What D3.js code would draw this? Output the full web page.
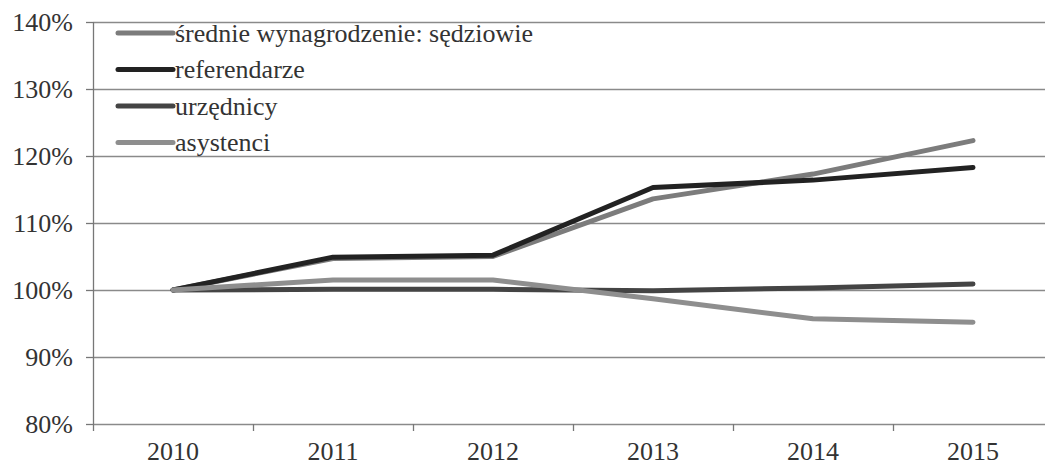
<!DOCTYPE html>
<html><head><meta charset="utf-8">
<script src="https://cdn.jsdelivr.net/npm/d3@7"></script>
</head><body style="margin:0">
<script>
const years = ["2010","2011","2012","2013","2014","2015"];
const seriesNames = ["średnie wynagrodzenie: sędziowie","referendarze","urzędnicy","asystenci"];
const sedziowie = [100, 104.7, 105.0, 113.6, 117.3, 122.3];
const referendarze = [100, 104.9, 105.2, 115.3, 116.4, 118.3];
const urzednicy = [100, 100.1, 100.1, 99.9, 100.3, 100.9];
const asystenci = [100, 101.5, 101.5, 98.7, 95.7, 95.2];
const yTicks = [80, 90, 100, 110, 120, 130, 140];

(function () {
const colors = ["#7c7c7c", "#222222", "#444444", "#8e8e8e"];
const allSeries = [sedziowie, referendarze, urzednicy, asystenci];
const FS = "26px";

const W = 1045, H = 467;
const svg = d3.select("body").append("svg").attr("width", W).attr("height", H);
const pLeft = 93, pRight = 1053, pTop = 22, pBottom = 424;

const x = d3.scaleBand().domain(years).range([pLeft, pRight]);
const y = d3.scaleLinear().domain([80, 140]).range([pBottom, pTop]);

function addText(sel) {
  return sel.style("font-family", '"Times New Roman"').style("font-size", FS).attr("fill", "#333");
}

// gridlines
svg.append("g").selectAll("line").data(yTicks).join("line")
  .attr("x1", pLeft).attr("x2", pRight)
  .attr("y1", d => Math.round(y(d)) + 0.5).attr("y2", d => Math.round(y(d)) + 0.5)
  .attr("stroke", "#8a8a8a").attr("stroke-width", 1.3);

// y axis line and ticks (manual, through scale)
svg.append("line").attr("x1", pLeft + 0.5).attr("x2", pLeft + 0.5)
  .attr("y1", y(80)).attr("y2", y(140)).attr("stroke", "#777").attr("stroke-width", 1.3);
svg.append("g").selectAll("line").data(yTicks).join("line")
  .attr("x1", pLeft - 7).attr("x2", pLeft)
  .attr("y1", d => Math.round(y(d)) + 0.5).attr("y2", d => Math.round(y(d)) + 0.5)
  .attr("stroke", "#777").attr("stroke-width", 1.3);
svg.selectAll("text.ylab").data(yTicks).join("text").attr("class", "ylab")
  .attr("x", pLeft - 20).attr("y", d => y(d)).attr("dy", "0.33em")
  .attr("text-anchor", "end")
  .call(addText)
  .text(d => d + "%");

// x labels
svg.selectAll("text.xlab").data(years).join("text").attr("class", "xlab")
  .attr("x", d => x(d) + x.bandwidth() / 2).attr("y", pBottom + 36)
  .attr("text-anchor", "middle")
  .call(addText)
  .text(d => d);
// boundary ticks
svg.append("g").selectAll("line").data(years).join("line")
  .attr("x1", d => Math.round(x(d)) + 0.5).attr("x2", d => Math.round(x(d)) + 0.5)
  .attr("y1", pBottom).attr("y2", pBottom + 7)
  .attr("stroke", "#777").attr("stroke-width", 1.3);

// lines
const line = d3.line().x((d, i) => x(years[i]) + x.bandwidth() / 2).y(d => y(d));
svg.append("g").selectAll("path").data(allSeries).join("path")
  .attr("d", d => line(d))
  .attr("fill", "none")
  .attr("stroke", (d, i) => colors[i])
  .attr("stroke-width", 5)
  .attr("stroke-linecap", "round")
  .attr("stroke-linejoin", "round");

// legend
const lg = svg.append("g").selectAll("g").data(seriesNames).join("g")
  .attr("transform", (d, i) => `translate(118,${33 + i * 36.5})`);
lg.append("line").attr("x1", 0).attr("x2", 55).attr("y1", 0).attr("y2", 0)
  .attr("stroke", (d, i) => colors[i]).attr("stroke-width", 5).attr("stroke-linecap", "round");
lg.append("text").attr("x", 57).attr("y", 0).attr("dy", "0.33em")
  .call(addText)
  .text(d => d);
})();
</script>
</body></html>
